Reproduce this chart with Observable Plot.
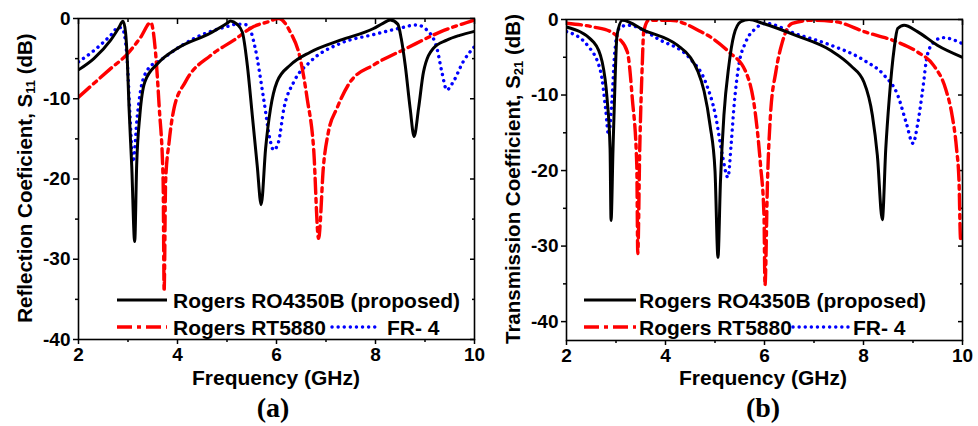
<!DOCTYPE html>
<html>
<head>
<meta charset="utf-8">
<script src="https://cdn.jsdelivr.net/npm/d3@7"></script>
<script src="https://cdn.jsdelivr.net/npm/@observablehq/plot@0.6"></script>
<style>
  html, body { margin: 0; padding: 0; background: #fff; }
  #wrap { position: relative; width: 978px; height: 426px; background: #fff; overflow: hidden;
          font-family: "Liberation Sans", Arial, sans-serif; font-weight: bold; color: #000; }
  .abs { position: absolute; white-space: nowrap; }
  .xt { font-size: 21px; transform: translate(-50%, -50%); }
  .yt { font-size: 20.5px; transform: translate(-50%, -50%) rotate(-90deg); }
  .yt sub { font-size: 13px; vertical-align: -3px; }
  .pl { font-family: "Liberation Serif", "Times New Roman", serif; font-size: 28px; transform: translate(-50%, -50%); }
</style>
</head>
<body>
<div id="wrap">
  <div id="pa" class="abs" style="left:0;top:0"></div>
  <div id="pb" class="abs" style="left:489px;top:0"></div>
  <div class="abs xt" style="left:276px;top:378px">Frequency (GHz)</div>
  <div class="abs xt" style="left:763px;top:378px">Frequency (GHz)</div>
  <div class="abs pl" style="left:273px;top:408px">(a)</div>
  <div class="abs pl" style="left:763px;top:408px">(b)</div>
  <div class="abs yt" style="left:25px;top:178px">Reflection Coeficient, S<sub>11</sub> (dB)</div>
  <div class="abs yt" style="left:513px;top:179px">Transmission Coefficient, S<sub>21</sub> (dB)</div>
  <svg id="leg" class="abs" style="left:0;top:0;pointer-events:none" width="978" height="426"></svg>
</div>
<script>
// ---------- data ----------
const seriesNames = ["Rogers RO4350B (proposed)", "Rogers RT5880", "FR- 4"];
const xTicks = [2, 4, 6, 8, 10];
const xMinor = [3, 5, 7, 9];
const yTicks = [0, -10, -20, -30, -40];
const yMinor = [-5, -15, -25, -35];

// (a) S11
const s11RO_f  = [2.0,2.31,2.65,2.8,2.9,2.95,2.99,3.02,3.075,3.135,3.175,3.24,3.34,3.6,4.0,4.67,5.0,5.07,5.2,5.31,5.41,5.51,5.61,5.69,5.78,5.88,6.01,6.28,6.68,7.29,7.96,8.15,8.3,8.45,8.52,8.6,8.7,8.78,8.87,8.97,9.17,9.44,9.7,10.0];
const s11RO_db = [-6.4,-5.0,-2.7,-1.3,-0.35,-1.7,-5.8,-11,-18.3,-27.8,-18.3,-12,-7.9,-5.6,-3.7,-1.8,-0.6,-0.3,-0.7,-1.7,-5.8,-12,-18.3,-23.2,-16.2,-11.2,-7.9,-5.8,-4.2,-2.7,-1.25,-0.6,-0.2,-0.7,-2.5,-5.8,-11.2,-14.7,-11.2,-6.65,-3.7,-2.7,-2.1,-1.6];

const s11RT_f  = [2.0,2.62,2.99,3.26,3.46,3.56,3.63,3.71,3.73,3.76,3.83,3.93,4.16,4.67,5.14,5.54,5.84,6.04,6.28,6.48,6.62,6.75,6.85,6.95,7.05,7.22,7.49,7.96,8.63,9.3,10.0];
const s11RT_db = [-9.8,-6.4,-4.4,-2.3,-0.5,-4.5,-11,-20.3,-34,-20.3,-15.4,-11.2,-7.9,-4.6,-2.7,-1.0,-0.4,0,-1.7,-5,-10,-16.2,-27.4,-18.3,-14.1,-11.2,-7.9,-5.8,-3.7,-1.7,-0.2];

const s11FR_f  = [2.0,2.31,2.65,2.81,2.88,2.95,2.99,3.04,3.10,3.19,3.29,3.48,3.6,4.0,4.33,5.0,5.2,5.41,5.57,5.74,5.88,5.94,6.04,6.15,6.35,6.68,7.29,7.96,8.46,8.83,9.04,9.24,9.34,9.44,9.57,9.77,10.0];
const s11FR_db = [-5.4,-4.0,-2.1,-1.1,-1.2,-2.9,-5.8,-12,-17.9,-12,-7.9,-5.8,-5.4,-3.7,-2.5,-1.0,-0.7,-0.8,-3.7,-10,-15.4,-16.4,-15.4,-11.2,-7.9,-5.4,-3.1,-2.0,-1.25,-0.8,-1.45,-3.7,-6.65,-8.9,-7.9,-5.4,-3.5];

// (b) S21
const s21RO_f  = [2.0,2.55,2.72,2.82,2.88,2.9,2.94,2.98,3.02,3.13,3.56,4.24,4.5,4.65,4.78,4.9,5.0,5.06,5.11,5.18,5.28,5.38,5.52,5.69,5.96,6.63,7.34,7.74,8.01,8.18,8.28,8.38,8.45,8.52,8.62,8.69,8.82,9.09,9.49,10.0];
const s21RO_db = [-1.0,-3.0,-5.6,-10.5,-17.1,-26.6,-17.1,-8.3,-2.1,-0.1,-1.4,-3.4,-5.0,-6.8,-9.5,-14,-20,-31.5,-21.5,-12.7,-6.1,-2.1,-0.3,0,-0.5,-2.1,-4.1,-6.1,-8.3,-12.7,-18,-26.5,-17.1,-10.5,-3.8,-1.2,-0.75,-1.6,-3.4,-5.0];

const s21RT_f  = [2.0,2.55,2.89,3.06,3.23,3.33,3.42,3.44,3.48,3.53,3.56,3.66,4.1,4.71,4.95,5.28,5.62,5.82,5.92,5.99,6.01,6.06,6.12,6.23,6.36,6.56,6.97,7.44,8.01,8.69,9.09,9.42,9.66,9.79,9.88,9.93,9.96,10.0];
const s21RT_db = [-0.5,-1.0,-1.6,-2.5,-4.3,-10.5,-19.3,-31,-17.1,-6.1,-1.6,-0.1,-0.1,-1.6,-2.5,-4.3,-6.9,-12.7,-19.3,-26,-35.2,-21.5,-12.7,-6.9,-3.0,-0.5,-0.1,-0.3,-1.6,-3.0,-4.3,-6.1,-9.2,-12.7,-17.1,-21.5,-29,-29.5];

const s21FR_f  = [2.0,2.42,2.69,2.79,2.85,2.92,2.97,3.06,3.23,3.9,4.5,4.81,5.01,5.15,5.26,5.33,5.38,5.48,5.62,5.82,6.02,6.63,7.34,8.01,8.42,8.69,8.86,9.0,9.09,9.19,9.29,9.42,9.6,10.0];
const s21FR_db = [-1.6,-3.4,-6.9,-11.8,-15.3,-10.5,-4.7,-1.2,-0.75,-2.75,-5.2,-8.3,-12.7,-18,-20.9,-16.2,-11.8,-6.1,-3.0,-1.2,-0.5,-1.9,-3.4,-5.4,-7.4,-10,-13.6,-16.4,-14,-9.6,-4.7,-3.0,-2.4,-3.2];

// ---------- styles ----------
const styles = {
  ro: {stroke: "#000000", strokeWidth: 3},
  rt: {stroke: "#ff0000", strokeWidth: 3.4, strokeDasharray: "15,5,4,5"},
  fr: {stroke: "#0000ff", strokeWidth: 3.4, strokeDasharray: "0.1,6", strokeLinecap: "round"}
};
const toRows = (f, v) => f.map((x, i) => ({f: x, db: v[i]}));

function panel(yDomain, m, sets) {
  const fmt = d => String(d);
  const blank = () => "";
  return Plot.plot({
    width: 489, height: 390,
    marginLeft: m[0], marginRight: m[1], marginTop: m[2], marginBottom: m[3],
    x: {domain: [2, 10]},
    y: {domain: yDomain},
    style: {fontFamily: "'Liberation Sans', Arial, sans-serif", fontSize: "19px", fontWeight: "bold", color: "#000", background: "transparent", overflow: "visible"},
    marks: [
      Plot.axisX({ticks: xTicks, tickSize: 5, tickPadding: 3, tickFormat: fmt, label: null, strokeWidth: 1.5}),
      Plot.axisX({ticks: xMinor, tickSize: 3, tickFormat: blank, label: null, strokeWidth: 1.5}),
      Plot.axisX({anchor: "top", ticks: xTicks, tickSize: -5, tickFormat: blank, label: null, strokeWidth: 1.5}),
      Plot.axisX({anchor: "top", ticks: xMinor, tickSize: -3, tickFormat: blank, label: null, strokeWidth: 1.5}),
      Plot.axisY({ticks: yTicks, tickSize: 5, tickPadding: 3, tickFormat: fmt, label: null, strokeWidth: 1.5}),
      Plot.axisY({ticks: yMinor, tickSize: 3, tickFormat: blank, label: null, strokeWidth: 1.5}),
      Plot.axisY({anchor: "right", ticks: yTicks, tickSize: -5, tickFormat: blank, label: null, strokeWidth: 1.5}),
      Plot.axisY({anchor: "right", ticks: yMinor, tickSize: -3, tickFormat: blank, label: null, strokeWidth: 1.5}),
      ...sets.map(([rows, st]) => Plot.line(rows, {x: "f", y: "db", curve: "monotone-x", clip: true, ...st})),
      Plot.frame({stroke: "#000", strokeWidth: 1.6})
    ]
  });
}

document.getElementById("pa").append(panel([-40, 0], [78, 15, 18, 51], [
  [toRows(s11FR_f, s11FR_db), styles.fr],
  [toRows(s11RT_f, s11RT_db), styles.rt],
  [toRows(s11RO_f, s11RO_db), styles.ro]
]));
document.getElementById("pb").append(panel([-42.5, 0], [77, 16, 19, 50], [
  [toRows(s21FR_f, s21FR_db), styles.fr],
  [toRows(s21RT_f, s21RT_db), styles.rt],
  [toRows(s21RO_f, s21RO_db), styles.ro]
]));

// ---------- legends ----------
const leg = d3.select("#leg");
function legend(x0, x1, tx, bx0, bx1, btx) {
  const rows = [
    {y: 300, items: [[x0, x1, tx, styles.ro, seriesNames[0]]]},
    {y: 327, items: [[x0, x1, tx, styles.rt, seriesNames[1]], [bx0, bx1, btx, styles.fr, seriesNames[2]]]}
  ];
  rows.forEach(r => r.items.forEach(([a, b, t, st, name]) => {
    leg.append("line").attr("x1", a).attr("x2", b).attr("y1", r.y).attr("y2", r.y)
      .attr("stroke", st.stroke).attr("stroke-width", st.strokeWidth)
      .attr("stroke-linecap", st.strokeLinecap || null)
      .attr("stroke-dasharray", st.strokeDasharray || null);
    leg.append("text").attr("x", t).attr("y", r.y + 7.5)
      .attr("font-family", "'Liberation Sans', Arial, sans-serif").attr("font-weight", "bold")
      .attr("font-size", 21).attr("fill", "#000").text(name);
  }));
}
legend(117, 167, 173, 332, 380, 387);
legend(584, 636, 639, 793, 850, 853);
</script>
</body>
</html>
